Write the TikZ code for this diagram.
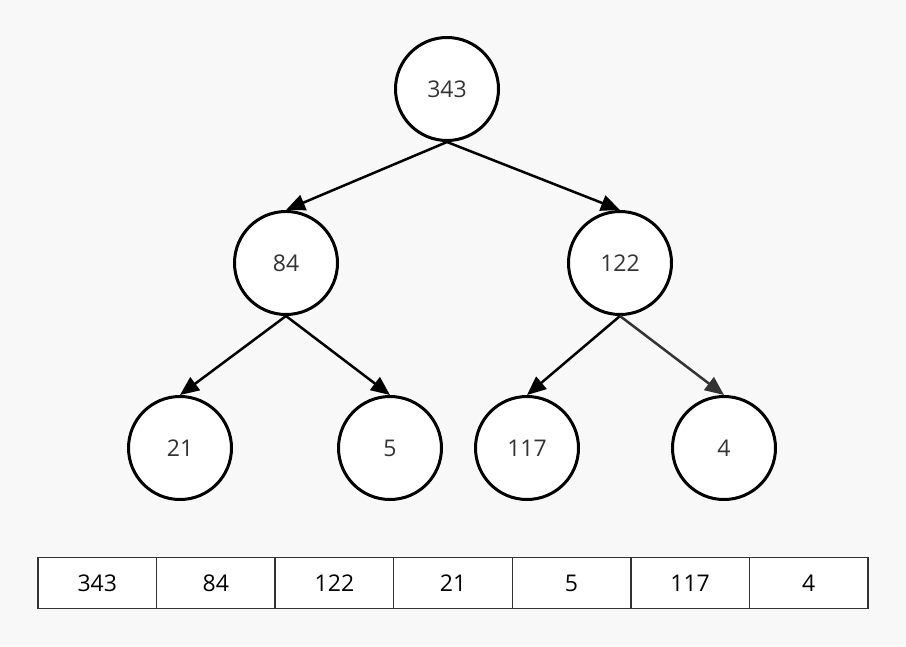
\documentclass[tikz,border=0pt]{standalone}
\usepackage{fontspec}
\setmainfont{Open Sans}
\usetikzlibrary{arrows.meta, positioning}
\definecolor{fundo}{HTML}{F8F8F8}
\definecolor{texto}{HTML}{333333}
\newcommand{\celula}[3]{%
  % #1 = nome, #2 = x do centro, #3 = valor
  \node[cel] (#1) at (#2, 583) {#3};
}

\begin{document}
\begin{tikzpicture}[x=1pt, y=-1pt,
    no/.style={circle, draw=black, line width=3pt, fill=white,
      minimum size=103pt, inner sep=0pt, text=texto, font=\fontsize{23}{27}\selectfont},
    cel/.style={rectangle, draw=texto, line width=1.5pt, fill=white,
      minimum width=118.57pt, minimum height=51pt, inner sep=0pt,
      font=\fontsize{23}{27}\selectfont},
    aresta/.style={line width=2.5pt, -{Triangle[length=19pt, width=16pt]}},
  ]
    % fundo
    \fill[fundo] (0, 0) rectangle (906, 646);
    \useasboundingbox (0, 0) rectangle (906, 646);

    % arvore
    \node[no] (r) at (447, 89) {343};
    \node[no] (a) at (286, 263) {84};
    \node[no] (b) at (620, 263) {122};
    \node[no] (aa) at (180, 448) {21};
    \node[no] (ab) at (390, 448) {5};
    \node[no] (ba) at (527, 448) {117};
    \node[no] (bb) at (724, 448) {4};

    \draw[aresta] (r.south) -- (a.north);
    \draw[aresta] (r.south) -- (b.north);
    \draw[aresta] (a.south) -- (aa.north);
    \draw[aresta] (a.south) -- (ab.north);
    \draw[aresta] (b.south) -- (ba.north);
    \draw[aresta, texto] (b.south) -- (bb.north);

    % vetor
    \pgfmathsetmacro{\larg}{830/7}
    \foreach \v [count=\i] in {343, 84, 122, 21, 5, 117, 4} {
      \pgfmathsetmacro{\xc}{38 + (\i - 0.5)*\larg}
      \celula{c\i}{\xc}{\v}
    }
\end{tikzpicture}
\end{document}
